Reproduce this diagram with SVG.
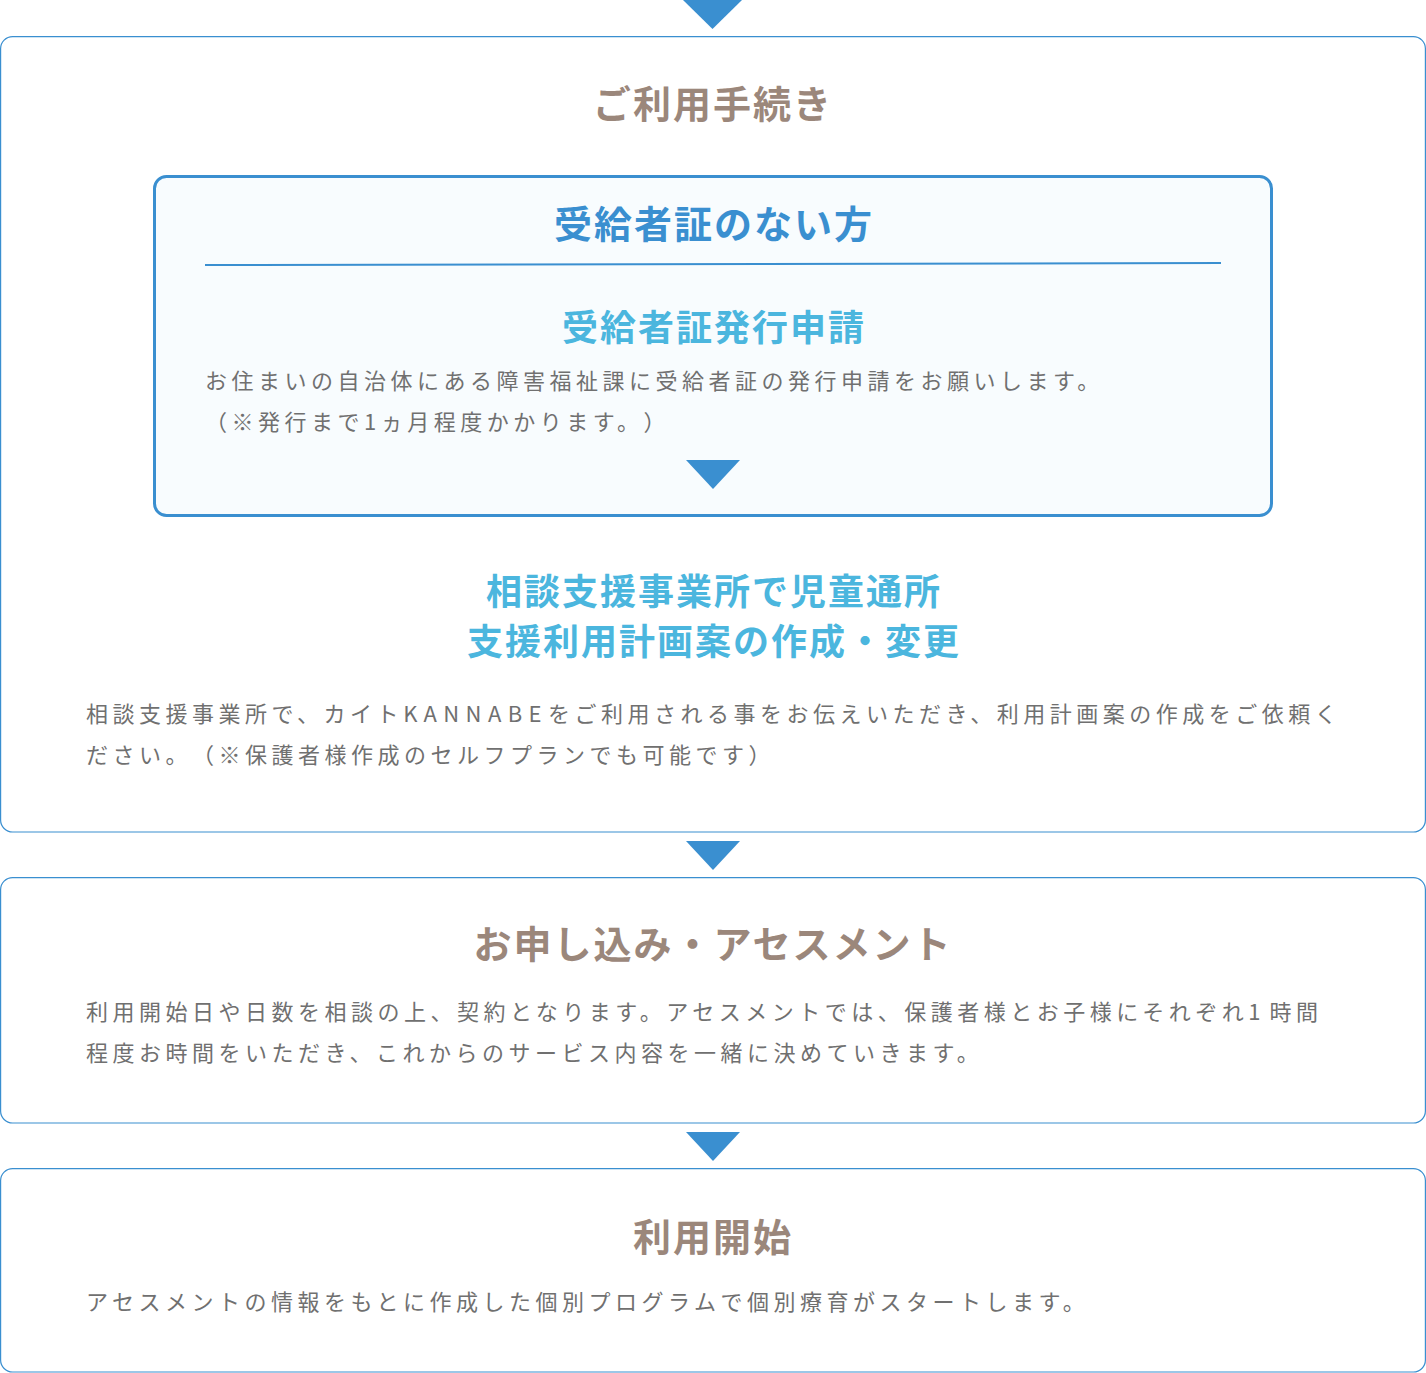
<svg xmlns="http://www.w3.org/2000/svg" xmlns:xlink="http://www.w3.org/1999/xlink" width="1426" height="1373" viewBox="0 0 1426 1373">
<style>
text{text-spacing-trim:space-all}
.box{fill:#ffffff;stroke:#3a8fd0;stroke-width:1.2}
.inner{fill:#f8fcfe;stroke:#3a8fd0;stroke-width:3}
.arrow{fill:#3a8fd0}
.title{font-family:"Noto Sans CJK JP","Noto Sans",sans-serif;font-weight:700;font-size:38px;fill:#9b877b;text-anchor:middle;letter-spacing:2px}
.blue{font-family:"Noto Sans CJK JP","Noto Sans",sans-serif;font-weight:700;font-size:38px;fill:#3a8fd0;text-anchor:middle;letter-spacing:2px}
.sub{font-family:"Noto Sans CJK JP","Noto Sans",sans-serif;font-weight:700;font-size:36px;fill:#4bb6de;text-anchor:middle;letter-spacing:2px}
.body{font-family:"Noto Sans CJK JP","Noto Sans",sans-serif;font-weight:400;font-size:22px;fill:#707070;letter-spacing:4.5px}
</style>
<defs>
<path id="tri" d="M-27,0 L27,0 L0,29 Z"/>
</defs>
<rect width="1426" height="1373" fill="#ffffff"/>

<g id="connectors">
<polygon class="arrow" points="683,0 742,0 712.5,29"/>
<use xlink:href="#tri" class="arrow" x="713" y="841"/>
<use xlink:href="#tri" class="arrow" x="713" y="1132"/>
</g>

<g id="node-procedure">
<rect class="box" x="0.6" y="36.6" width="1424.8" height="795.4" rx="12"/>
<text class="title" x="713" y="118">ご利用手続き</text>
<g id="node-no-certificate">
<rect class="inner" x="154.5" y="176.5" width="1117" height="339" rx="12"/>
<text class="blue" x="714" y="238">受給者証のない方</text>
<line x1="205" y1="265" x2="1221" y2="263" stroke="#3a8fd0" stroke-width="2"/>
<text class="sub" x="714" y="341">受給者証発行申請</text>
<text class="body" x="205" y="389">お住まいの自治体にある障害福祉課に受給者証の発行申請をお願いします。</text>
<text class="body" x="205" y="430">（※発行まで1ヵ月程度かかります。）</text>
<use xlink:href="#tri" class="arrow" x="713" y="460"/>
</g>
<g id="node-plan">
<text class="sub" x="714" y="605">相談支援事業所で児童通所</text>
<text class="sub" x="714" y="655">支援利用計画案の作成・変更</text>
<text class="body" x="86" y="722">相談支援事業所で、カイト<tspan letter-spacing="6.4">KANNABE</tspan>をご利用される事をお伝えいただき、利用計画案の作成をご依頼く</text>
<text class="body" x="86" y="763">ださい。（※保護者様作成のセルフプランでも可能です）</text>
</g>
</g>

<g id="node-assessment">
<rect class="box" x="0.6" y="877.6" width="1424.8" height="245.4" rx="12"/>
<text class="title" x="713" y="958">お申し込み・アセスメント</text>
<text class="body" x="86" y="1020">利用開始日や日数を相談の上、契約となります。アセスメントでは、保護者様とお子様にそれぞれ<tspan letter-spacing="9">1</tspan>時間</text>
<text class="body" x="86" y="1061">程度お時間をいただき、これからのサービス内容を一緒に決めていきます。</text>
</g>

<g id="node-start">
<rect class="box" x="0.6" y="1168.6" width="1424.8" height="203.4" rx="12"/>
<text class="title" x="713" y="1251">利用開始</text>
<text class="body" x="86" y="1310">アセスメントの情報をもとに作成した個別プログラムで個別療育がスタートします。</text>
</g>
</svg>
